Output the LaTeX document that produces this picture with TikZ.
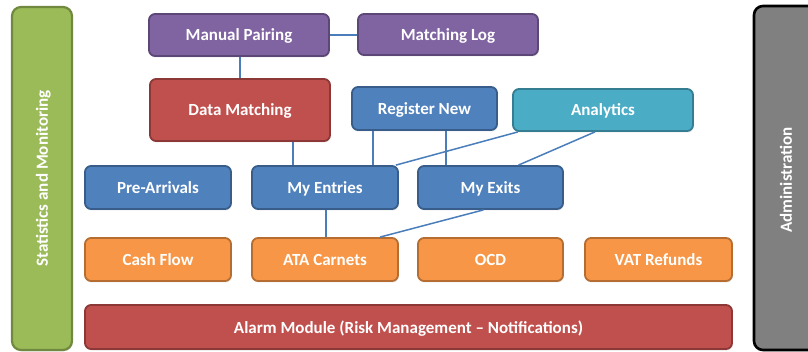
\documentclass[tikz,border=0pt]{standalone}
\usepackage{fontspec}
\setmainfont{Carlito}
\usetikzlibrary{shadows}
\definecolor{purpF}{HTML}{8064A2}\definecolor{purpD}{HTML}{5C4776}
\definecolor{redF}{HTML}{C0504D}\definecolor{redD}{HTML}{8C3836}
\definecolor{blueF}{HTML}{4F81BD}\definecolor{blueD}{HTML}{385D8A}
\definecolor{tealF}{HTML}{4BACC6}\definecolor{tealD}{HTML}{357D91}
\definecolor{orgF}{HTML}{F79646}\definecolor{orgD}{HTML}{B66D31}
\definecolor{grnF}{HTML}{9BBB59}\definecolor{grnD}{HTML}{71893F}
\definecolor{gryF}{HTML}{808080}
\definecolor{lineC}{HTML}{4A7EBB}
\begin{document}
\begin{tikzpicture}[x=1pt,y=-1pt,
  txt/.style={text=white, font=\bfseries\fontsize{17}{19}\selectfont},
  box/.style={draw, line width=1.8pt, rounded corners=6pt, txt, inner sep=0pt, text depth=0pt,
    drop shadow={shadow xshift=0.8pt, shadow yshift=-1.5pt, opacity=0.2}},
  purp/.style={box, fill=purpF, draw=purpD},
  redb/.style={box, fill=redF, draw=redD},
  blueb/.style={box, fill=blueF, draw=blueD},
  tealb/.style={box, fill=tealF, draw=tealD},
  orgb/.style={box, fill=orgF, draw=orgD},
  conn/.style={draw=lineC, line width=1.5pt}]
\useasboundingbox (0,0) rectangle (808,352);
\begin{scope}
\clip (0,0) rectangle (808,352);
\node[box, fill=grnF, draw=grnD, line width=2.2pt, rounded corners=9pt, minimum width=60pt, minimum height=343pt] (stat) at (42,178.5) {};
\node[rotate=90, txt, text depth=0pt] (statlbl) at (stat.center) {Statistics and Monitoring};
\node[box, fill=gryF, draw=black, line width=2.6pt, rounded corners=9pt, minimum width=64pt, minimum height=344pt] (admin) at (786,178) {};
\node[rotate=90, txt, text depth=0pt] (adminlbl) at (786,180) {Administration};
\end{scope}

\node[purp, minimum width=180pt, minimum height=42pt] (mp) at (239,35) {Manual Pairing};
\node[purp, minimum width=180pt, minimum height=41pt] (ml) at (448,34.5) {Matching Log};
\node[redb, minimum width=180pt, minimum height=62pt] (dm) at (240,110) {Data Matching};
\node[blueb, minimum width=145pt, minimum height=43pt] (rn) at (424.5,108.5) {Register New};
\node[tealb, minimum width=180pt, minimum height=42pt] (an) at (603,110) {Analytics};
\node[blueb, minimum width=146pt, minimum height=43pt] (pa) at (158,187.5) {Pre-Arrivals};
\node[blueb, minimum width=146pt, minimum height=43pt] (me) at (325,187.5) {My Entries};
\node[blueb, minimum width=145pt, minimum height=43pt] (mx) at (490.5,187.5) {My Exits};
\node[orgb, minimum width=146pt, minimum height=43pt] (cf) at (158,259.5) {Cash Flow};
\node[orgb, minimum width=146pt, minimum height=43pt] (ata) at (325,259.5) {ATA Carnets};
\node[orgb, minimum width=145pt, minimum height=43pt] (ocd) at (490.5,259.5) {OCD};
\node[orgb, minimum width=147pt, minimum height=43pt] (vat) at (658.5,259.5) {VAT Refunds};
\node[redb, minimum width=647pt, minimum height=44pt] (alarm) at (408.5,327) {Alarm Module (Risk Management – Notifications)};

\draw[conn] (mp.east) -- (mp.east -| ml.west);
\draw[conn] ([xshift=1pt]mp.south) -- ([xshift=1pt]mp.south |- dm.north);
\draw[conn] ([xshift=53pt]dm.south) -- ([xshift=53pt]dm.south |- me.north);
\draw[conn] ([xshift=-51.5pt]rn.south) -- ([xshift=-51.5pt]rn.south |- me.north);
\draw[conn] ([xshift=21.5pt]rn.south) -- ([xshift=21.5pt]rn.south |- mx.north);
\draw[conn] ([xshift=-85pt]an.south) -- ([xshift=-3pt]me.north east);
\draw[conn] ([xshift=-8pt]an.south) -- ([xshift=28pt]mx.north);
\draw[conn] ([xshift=1pt]me.south) -- ([xshift=1pt]me.south |- ata.north);
\draw[conn] ([xshift=-7pt]mx.south) -- ([xshift=55pt]ata.north);
\end{tikzpicture}
\end{document}
